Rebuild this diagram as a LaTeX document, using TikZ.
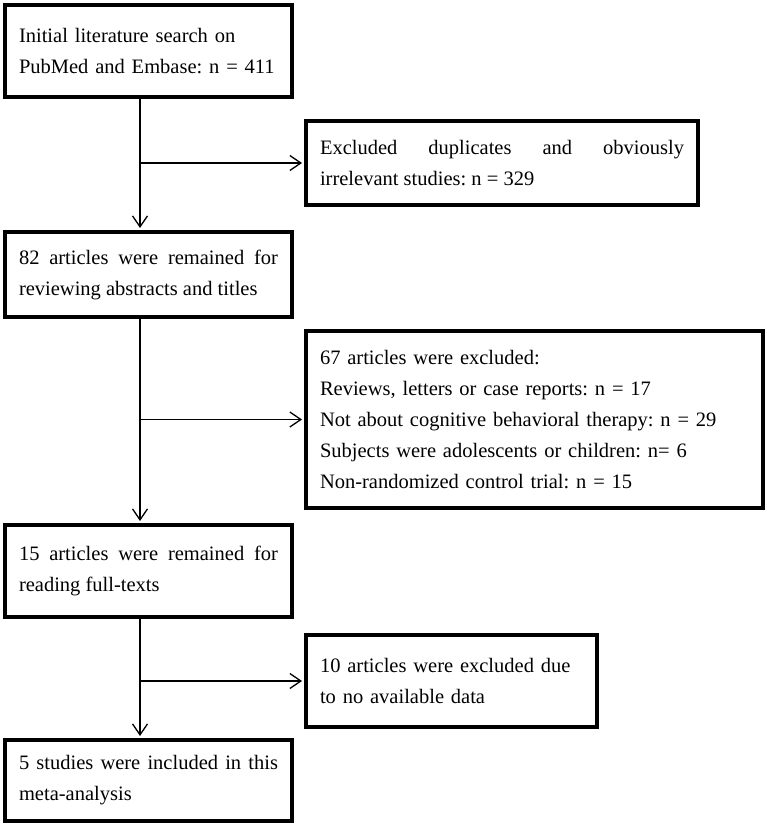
\documentclass[tikz,border=0pt]{standalone}
\usepackage{fontspec}
\setmainfont{Liberation Serif}
\usetikzlibrary{arrows.meta}
\frenchspacing
\begin{document}
\begin{tikzpicture}[x=1pt,y=-1pt,
  box/.style={draw, line width=4pt, inner xsep=14pt, inner ysep=0pt,
    font=\fontsize{20.5}{31}\selectfont\frenchspacing},
  flow/.style={line width=1.3pt},
  arr/.style={flow, shorten >=2pt, -{Straight Barb[length=11pt,width=15pt,line width=1.3pt]}}
]
\useasboundingbox (0,0) rectangle (767,826);
\coordinate (trunk) at (140,0);

\node[box, minimum width=287pt, minimum height=92pt, text width=259pt, align=left] (b1) at (148.5,51)
  {Initial literature search on\\PubMed and Embase: n = 411};
\node[box, minimum width=392pt, minimum height=84pt, text width=364pt, align=justify] (b2) at (502,163)
  {Excluded duplicates and obviously\linebreak irrelevant studies: n = 329};
\node[box, minimum width=287pt, minimum height=85pt, text width=259pt, align=justify] (b3) at (148.5,274.5)
  {82 articles were remained for\linebreak reviewing abstracts and titles};
\node[box, minimum width=457pt, minimum height=177pt, text width=429pt, align=left] (b4) at (534.5,419.5)
  {67 articles were excluded:\\
   Reviews, letters or case reports: n = 17\\
   Not about cognitive behavioral therapy: n = 29\\
   Subjects were adolescents or children: n= 6\\
   Non-randomized control trial: n = 15};
\node[box, minimum width=287pt, minimum height=92pt, text width=259pt, align=justify] (b5) at (148.5,571)
  {15 articles were remained for\linebreak reading full-texts};
\node[box, minimum width=291pt, minimum height=92pt, text width=263pt, align=left] (b6) at (451.5,681)
  {10 articles were excluded due\\to no available data};
\node[box, minimum width=287pt, minimum height=81pt, text width=259pt, align=justify] (b7) at (148.5,780.5)
  {5 studies were included in this\linebreak meta-analysis};

\draw[arr] (b1.south -| trunk) -- (b3.north -| trunk);
\draw[arr] (b3.south -| trunk) -- (b5.north -| trunk);
\draw[arr] (b5.south -| trunk) -- (b7.north -| trunk);
\draw[arr] (b2.west -| trunk) -- (b2.west);
\draw[arr] (b4.west -| trunk) -- (b4.west);
\draw[arr] (b6.west -| trunk) -- (b6.west);
\end{tikzpicture}
\end{document}
